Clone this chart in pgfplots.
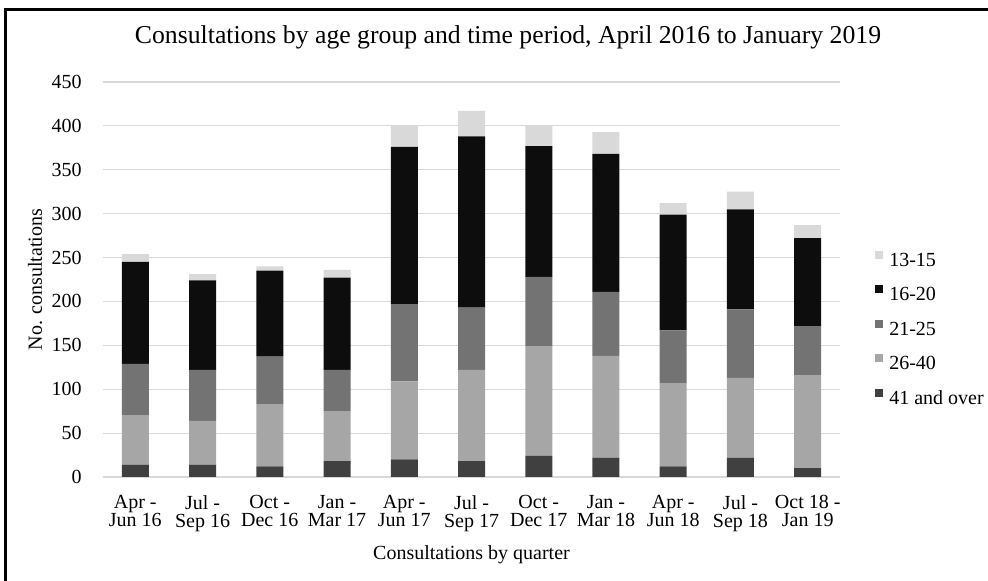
\documentclass[border=0pt]{standalone}
\usepackage{pgfplots}
\pgfplotsset{compat=1.18}
\usepackage{fontspec}
\setmainfont{Liberation Serif}
\definecolor{cOver}{HTML}{404040}
\definecolor{cMid}{HTML}{A6A6A6}
\definecolor{cTw}{HTML}{737373}
\definecolor{cTeen}{HTML}{0D0D0D}
\definecolor{cYoung}{HTML}{D9D9D9}
\definecolor{gridc}{HTML}{D9D9D9}
\begin{document}
\begin{tikzpicture}[x=0.75pt,y=0.75pt]
\path[use as bounding box] (0,0) rectangle (988,581);
\draw[line width=2.25pt] (5,-10) -- (5,571) -- (995,571);
\node[font=\fontsize{19.3}{23}\selectfont] at (508,544) {Consultations by age group and time period, April 2016 to January 2019};
\begin{axis}[
  at={(77.25pt,78pt)}, anchor=south west, scale only axis,
  width=552.75pt, height=296.25pt,
  ybar stacked, bar width=20.25pt,
  xmin=-0.48, xmax=10.48, ymin=0, ymax=450,
  ytick={0,50,...,450},
  xtick={0,...,10},
  xticklabels={{Apr -\\Jun 16},{Jul -\\Sep 16},{Oct -\\Dec 16},{Jan -\\Mar 17},{Apr -\\Jun 17},{Jul -\\Sep 17},{Oct -\\Dec 17},{Jan -\\Mar 18},{Apr -\\Jun 18},{Jul -\\Sep 18},{Oct 18 -\\Jan 19}},
  axis line style={draw=none},
  major tick length=0pt,
  ymajorgrids, major grid style={draw=gridc, line width=0.9pt},
  /pgf/number format/assume math mode=true,
  tick label style={font=\fontsize{15}{13.75}\selectfont},
  xticklabel style={align=center, inner sep=0pt, anchor=north, yshift=-13.5pt},
  yticklabel style={inner sep=0pt, anchor=east, xshift=-15.75pt},
  xlabel={Consultations by quarter},
  ylabel={No. consultations},
  label style={font=\fontsize{15}{18}\selectfont},
  xlabel style={at={(axis description cs:0.5,-0.1975)}, anchor=center},
  ylabel style={at={(axis description cs:-0.0923,0.5)}, anchor=center},
  reverse legend,
  legend style={at={(1.0475,0.3735)}, anchor=west, draw=none, fill=none, inner sep=0pt,
    font=\fontsize{15}{18}\selectfont,
    nodes={inner sep=0pt, text height=10pt, text depth=3pt},
    row sep=11.4pt,
    /tikz/every odd column/.style={column sep=4.5pt}},
  legend cell align=left,
  legend image code/.code={\fill[#1] (0pt,2pt) rectangle (6pt,8pt);},
]
\addplot[fill=cOver, draw=none] coordinates {(0,14) (1,14) (2,12) (3,18) (4,20) (5,18) (6,24) (7,22) (8,12) (9,22) (10,10)};
\addplot[fill=cMid, draw=none] coordinates {(0,56) (1,50) (2,71) (3,57) (4,89) (5,104) (6,125) (7,116) (8,95) (9,91) (10,106)};
\addplot[fill=cTw, draw=none] coordinates {(0,59) (1,58) (2,54) (3,47) (4,88) (5,71) (6,79) (7,73) (8,60) (9,78) (10,56)};
\addplot[fill=cTeen, draw=none] coordinates {(0,116) (1,102) (2,98) (3,105) (4,179) (5,195) (6,149) (7,157) (8,132) (9,114) (10,100)};
\addplot[fill=cYoung, draw=none] coordinates {(0,9) (1,7) (2,5) (3,9) (4,24) (5,29) (6,23) (7,25) (8,13) (9,20) (10,15)};
\legend{41 and over,26-40,21-25,16-20,13-15}
\end{axis}
\end{tikzpicture}
\end{document}
